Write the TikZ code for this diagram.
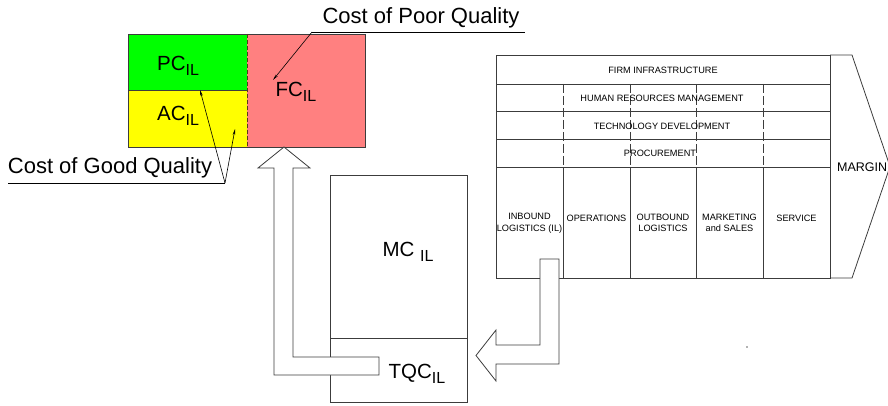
\documentclass[tikz,border=0pt]{standalone}
\usepackage{fontspec}
\setmainfont{Liberation Sans}
\usepackage{tikz}
\usetikzlibrary{arrows.meta}

\definecolor{pcgreen}{RGB}{0,255,0}
\definecolor{acyellow}{RGB}{255,255,0}
\definecolor{fcred}{RGB}{255,128,128}
\definecolor{edgegray}{RGB}{60,60,60}

\newcommand{\ilsub}[1]{\raisebox{-0.45ex}{\fontsize{16}{16}\selectfont #1}}

\tikzset{
  costbox/.style={inner sep=0pt, outer sep=0pt},
  costlabel/.style={inner sep=0pt, font=\fontsize{22}{26}\selectfont},
  biglabel/.style={inner sep=0pt, font=\fontsize{20.5}{24}\selectfont},
  chaintext/.style={inner sep=0pt, align=center, font=\fontsize{9.2}{11.5}\selectfont},
  leader/.style={black, line width=0.6pt, -{Stealth[length=6pt,width=2.5pt]}},
  hollow/.style={draw=edgegray, line width=0.8pt, fill=white},
  chainline/.style={draw=edgegray, line width=0.8pt},
}

\begin{document}
\begin{tikzpicture}[x=1pt, y=-1pt]
\useasboundingbox (0,0) rectangle (888,406);

% quality cost block
\node[costbox, fill=pcgreen, minimum width=119pt, minimum height=56pt] (pc) at (187.5,62) {};
\node[costbox, fill=acyellow, minimum width=119pt, minimum height=57pt] (ac) at (187.5,118.5) {};
\node[costbox, fill=fcred, minimum width=118pt, minimum height=113pt] (fc) at (306,90.5) {};
\draw[chainline] (pc.north west) rectangle (fc.south east);
\draw[chainline] (pc.south west) -- (pc.south east);
\draw[draw=black!55!brown, line width=0.8pt, dash pattern=on 4pt off 2pt] (pc.north east) -- (ac.south east);

\node[biglabel] (pctext) at (178,66) {PC\ilsub{IL}};
\node[biglabel] (actext) at (178,116) {AC\ilsub{IL}};
\node[biglabel] (fctext) at (296,92) {FC\ilsub{IL}};

% labels with leaders
\node[costlabel] (poor) at (421,18) {Cost of Poor Quality};
\coordinate (poorend) at (312,32);
\coordinate (pooraim) at (273,80);
\draw[black, line width=0.6pt] (poorend) -- (525,32);
\draw[leader] (poorend) -- (pooraim);

\node[costlabel] (good) at (110,168) {Cost of Good Quality};
\coordinate (goodend) at (225,183);
\coordinate (goodaimA) at (200,90);
\coordinate (goodaimB) at (235,129);
\draw[black, line width=0.6pt] (8,183) -- (goodend);
\draw[leader] (goodend) -- (goodaimA);
\draw[leader] (goodend) -- (goodaimB);

% MC / TQC block
\node[costbox, draw=edgegray, line width=0.8pt, minimum width=137pt, minimum height=163pt] (mc) at (398.5,256.5) {};
\node[costbox, draw=edgegray, line width=0.8pt, minimum width=137pt, minimum height=64pt] (tqc) at (398.5,370) {};
\node[biglabel] (mctext) at (408,252) {MC \ilsub{IL}};
\node[biglabel] (tqctext) at (417,374) {TQC\ilsub{IL}};

% hollow arrow TQC -> FC
\draw[hollow] (379,357) -- (293,357) -- (293,168) -- (310,168) -- (fc.south -| 284,0)
  -- (258,168) -- (274,168) -- (274,375) -- (379,375) -- cycle;

% value chain
\draw[chainline] (496,55) rectangle (830,278);
\foreach \y in {84,111.5,139,167}
  \draw[chainline] (496,\y) -- (830,\y);
\foreach \x in {563,630,696,763} {
  \draw[chainline, dash pattern=on 9pt off 3pt] (\x,84) -- (\x,167);
  \draw[chainline] (\x,167) -- (\x,278);
}
\draw[chainline] (830,55) -- (852,55) -- (890,166.5) -- (852,278) -- (830,278);

\node[chaintext] (firm) at (663,70) {FIRM INFRASTRUCTURE};
\node[chaintext] (hrm) at (662,98.5) {HUMAN RESOURCES MANAGEMENT};
\node[chaintext] (tech) at (662,126) {TECHNOLOGY DEVELOPMENT};
\node[chaintext] (proc) at (660,153) {PROCUREMENT};
\node[chaintext] (inbound) at (529.5,223) {INBOUND\\LOGISTICS (IL)};
\node[chaintext] (ops) at (596.5,218) {OPERATIONS};
\node[chaintext] (outbound) at (663,223) {OUTBOUND\\LOGISTICS};
\node[chaintext] (market) at (729.5,223) {MARKETING\\and SALES};
\node[chaintext] (service) at (796.5,218) {SERVICE};
\node[inner sep=0pt, anchor=west, font=\fontsize{12.5}{15}\selectfont] (margin) at (837,167) {MARGIN};

% hollow arrow IL -> TQC
\draw[hollow] (540,259) -- (559,259) -- (559,364) -- (496,364) -- (496,381)
  -- (476,355.5) -- (496,330) -- (496,345) -- (540,345) -- cycle;

\fill[black!60] (747,347) circle (0.9pt);
\end{tikzpicture}
\end{document}
